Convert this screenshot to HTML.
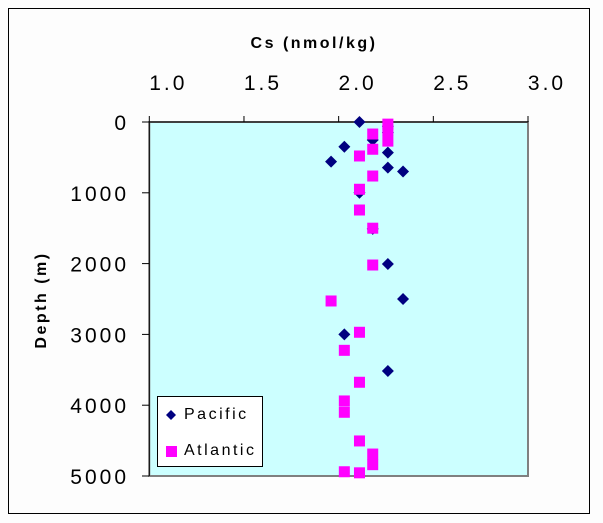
<!DOCTYPE html>
<html><head><meta charset="utf-8"><style>
body{margin:0;background:#fdfdfd;}
svg{display:block;font-family:"Liberation Sans",Arial,sans-serif;}
</style></head><body>
<svg id="chart" width="603" height="523">
<rect x="8.5" y="8.5" width="581" height="505" fill="#fdfdfd" stroke="#000"/>
<rect x="149.3" y="122" width="378.7" height="354" fill="#ccffff" stroke="#808080" stroke-width="2"/>
<text x="314" y="48" font-size="16" font-weight="bold" text-anchor="middle" letter-spacing="2.5">Cs (nmol/kg)</text>
<text transform="translate(46,300) rotate(-90)" font-size="16" font-weight="bold" text-anchor="middle" letter-spacing="2.5">Depth (m)</text>
<g id="axes"></g>
<g id="marks"></g>
<rect x="157.5" y="396.5" width="105" height="70" fill="#fff" stroke="#000"/>
<path d="M171,410 l5,5 l-5,5 l-5,-5z" fill="#000080"/>
<text x="184" y="419" font-size="16" letter-spacing="2.5">Pacific</text>
<rect x="166" y="446" width="11" height="11" fill="#ff00ff"/>
<text x="184" y="455" font-size="16" letter-spacing="2.5">Atlantic</text>
</svg>
<script>
const xTicks=[1.0,1.5,2.0,2.5,3.0];
const yTicks=[0,1000,2000,3000,4000,5000];
const pacificCs=[2.11,2.26,2.26,2.18,2.03,1.96,2.26,2.26,2.34,2.11,2.18,2.26,2.34,2.03,2.26];
const pacificDepth=[0,60,150,254,350,560,433,645,700,1000,1510,2005,2500,3000,3517];
const atlanticCs=[2.26,2.26,2.26,2.18,2.18,2.11,2.18,2.11,2.11,2.18,2.18,1.96,2.11,2.03,2.11,2.03,2.03,2.11,2.18,2.18,2.03,2.11];
const atlanticDepth=[30,120,270,170,385,480,763,950,1243,1500,2020,2528,2970,3225,3676,3940,4100,4505,4690,4840,4940,4955];
const X=v=>149.3+(v-1)*189.35;
const Y=d=>122+d*0.0708;
const NS="http://www.w3.org/2000/svg";
const axes=document.getElementById('axes'),marks=document.getElementById('marks');
function mk(tag,attrs,parent){const e=document.createElementNS(NS,tag);for(const k in attrs)e.setAttribute(k,attrs[k]);parent.appendChild(e);return e;}
xTicks.forEach(t=>{
 const l=mk('line',{x1:X(t),x2:X(t),y1:116,y2:122,stroke:'#000'},axes);
 
 
 const tx=mk('text',{x:X(t)+19,y:90,'font-size':21,'letter-spacing':3,'text-anchor':'middle'},axes);
 tx.textContent=t.toFixed(1);
 
 
});
mk('line',{x1:149.3,x2:528,y1:122,y2:122,stroke:'#000'},axes);
mk('line',{x1:149.3,x2:149.3,y1:122,y2:476,stroke:'#000'},axes);
yTicks.forEach(t=>{
 const l=mk('line',{x1:142,x2:149,y1:Y(t),y2:Y(t),stroke:'#000'},axes);
 
 
 const tx=mk('text',{x:129,y:Y(t)+8,'font-size':21,'letter-spacing':3,'text-anchor':'end'},axes);
 tx.textContent=t;
 
 
});
pacificCs.forEach((c,i)=>{
 const x=X(c),y=Y(pacificDepth[i]);
 const p=mk('path',{d:`M${x},${y-6} l6,6 l-6,6 l-6,-6z`,fill:'#000080'},marks);
 
 
});
atlanticCs.forEach((c,i)=>{
 const x=X(c),y=Y(atlanticDepth[i]);
 const r=mk('rect',{x:x-5.5,y:y-5.5,width:11,height:11,fill:'#ff00ff'},marks);
 
 
});
</script>
</body></html>
